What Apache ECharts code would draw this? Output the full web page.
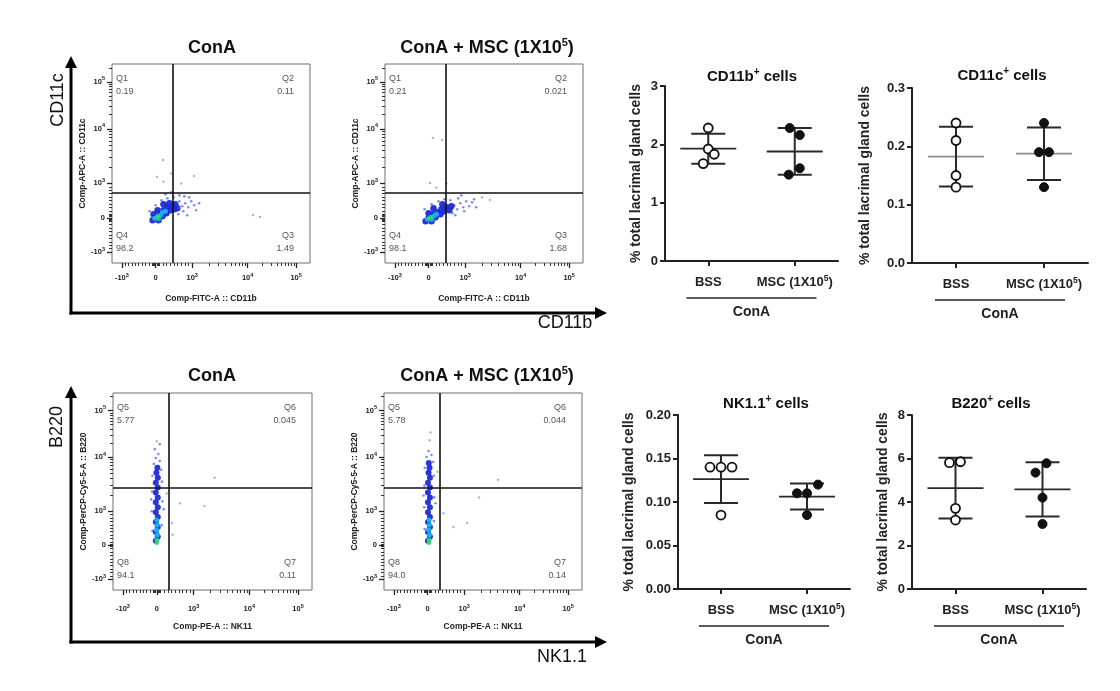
<!DOCTYPE html>
<html><head><meta charset="utf-8">
<script src="https://cdn.jsdelivr.net/npm/echarts@6/dist/echarts.min.js"></script>
<style>html,body{margin:0;padding:0;background:#fff}#c{width:1120px;height:691px}</style>
</head><body><div id="c"></div>
<script>
const FONT = '"Liberation Sans", Arial, Helvetica, sans-serif';

// ================= DATA =================
// dot plots (% total lacrimal gland cells)
const groupLabels = ['BSS', 'MSC (1X10^5)'];
const cd11bBss = [2.28, 1.92, 1.83, 1.67];
const cd11bMsc = [2.28, 2.16, 1.59, 1.48];
const cd11cBss = [0.24, 0.21, 0.15, 0.13];
const cd11cMsc = [0.24, 0.19, 0.19, 0.13];
const nkBss = [0.14, 0.14, 0.14, 0.085];
const nkMsc = [0.12, 0.11, 0.11, 0.085];
const b220Bss = [5.81, 5.85, 3.71, 3.17];
const b220Msc = [5.78, 5.35, 4.20, 2.99];
// horizontal spread (px) of overlapping dots
const cd11bBssJit = [0, 0, 6, -5];
const cd11bMscJit = [-5, 5, 5, -6];
const cd11cBssJit = [0, 0, 0, 0];
const cd11cMscJit = [0, -5, 5, 0];
const nkBssJit = [-11, 0, 11, 0];
const nkMscJit = [11, -10, 0, 0];
const b220BssJit = [-6, 5, 0, 0];
const b220MscJit = [4, -7, 0, 0];

// flow cytometry (biexponential display units 0..100)
const flowTickText = ['-10^3', '0', '10^3', '10^4', '10^5'];
const flowXTickPos = [5, 22, 40.5, 68.5, 93];
const flowYTickPos = [5.5, 22.7, 40, 67.4, 91];
const gateTopConA = [30.8, 35.2];
const gateTopMsc = [30.8, 35.2];
const gateBotConA = [28.2, 51.8];
const gateBotMsc = [28.3, 51.8];
const quadTopNames = ['Q1', 'Q2', 'Q3', 'Q4'];
const quadTopConA = ['0.19', '0.11', '1.49', '98.2'];
const quadTopMsc = ['0.21', '0.021', '1.68', '98.1'];
const quadBotNames = ['Q5', 'Q6', 'Q7', 'Q8'];
const quadBotConA = ['5.77', '0.045', '0.11', '94.1'];
const quadBotMsc = ['5.78', '0.044', '0.14', '94.0'];

// density clouds (events) – CD11b/CD11c ConA
const tlBlue = [[20.5,21.5],[22,23],[23.5,21.5],[24,25],[25.5,23.5],[26,26.5],[27.5,25],[28,28],[29.5,26.5],[30.5,28.5],[31.5,27],[26,29.5],[23,26.5],[21,24.5],[29,30],[32,29.5],[33,27.5]];
const tlSpray = [[34,31],[35.5,28.5],[37,30],[36,26],[38.5,28],[40,31],[41.5,29],[39,33],[34,34],[31,33],[28,32.5],[25,31.5],[22,29],[19,26],[33.5,24.5],[42.5,26.5],[36.5,33.5],[30,35.5],[44,30],[27,34.5],[38,24]];
const tlCyan = [[21.5,22.5],[23,23.5],[24.5,24],[25.5,25.5],[23.5,22.2],[27,26]];
const tlGreen = [[22.5,22.8],[23.5,23.2]];
const tlSparse = [[25.8,51.8],[22.7,43.2],[41.4,43.7],[71.2,24.1],[74.7,23.1],[26,41],[30,45],[35,40]];
// CD11b/CD11c ConA + MSC
const tmBlue = [[20.5,21],[22,22.5],[23.5,21],[24,24.5],[25.5,23],[26.5,25.5],[28,24.5],[28.5,27],[30,26],[31,28],[24.5,27.5],[22,25],[32.5,26.5],[33.5,28.5],[29,29.5]];
const tmSpray = [[35,29],[36.5,27],[38,30],[39.5,28],[41,31],[37,32.5],[42.5,28.5],[44,30.5],[46,28],[34,25],[40,26],[33,31.5],[30,32],[27,31],[23.5,29.5],[20,27],[35.5,24],[45,32],[38.5,34]];
const tmCyan = [[21.5,22],[23,23],[24.5,23.5],[26,24.5],[23.5,21.8]];
const tmGreen = [[22.3,22.3],[23.2,22.8]];
const tmSparse = [[24.2,62.8],[28.8,61.8],[22.7,40.2],[53,31.7],[26,38],[31,40],[49,33]];
// NK1.1/B220 ConA
const blBlue = [[21.5,25],[22.5,27],[21.5,29.5],[22.5,32],[21.5,34.5],[22.5,37],[21.5,39.5],[22.5,42],[21.5,44.5],[22.5,47],[21.5,49.5],[22.5,52],[21.5,54.5],[22.5,57],[21.8,59.5],[22.3,62]];
const blSpray = [[19.8,30],[24.5,33],[19.5,40],[24.8,45],[19.6,50],[24.6,55],[19.8,58],[24.2,61],[20.5,64],[23.5,65.5],[21.5,67],[22.8,69],[21,71.5],[23.5,74],[25.5,41],[19.2,46]];
const blCyan = [[22,25.5],[22.3,28],[21.8,30.5],[22.2,33],[22,35.5]];
const blGreen = [[22,23.8],[22.2,25]];
const blSparse = [[33.7,44],[46,42.6],[51,57],[29.6,34],[22,75.5],[27,49],[30,28]];
// NK1.1/B220 ConA + MSC
const bmBlue = [[22.2,25],[23.2,27],[22.2,29.5],[23.2,32],[22.2,34.5],[23.2,37],[22.2,39.5],[23.2,42],[22.2,44.5],[23.2,47],[22.2,49.5],[23.2,52],[22.2,54.5],[23.2,57],[22.5,59.5],[23,62],[22.6,64.5]];
const bmSpray = [[20.5,31],[25.2,35],[20.3,42],[25.4,47],[20.4,53],[25.2,58],[20.6,62],[24.8,65],[21.5,67.5],[24,68.5],[22.5,70.5],[26,44],[20,48]];
const bmCyan = [[22.7,25.5],[23,28],[22.5,30.5],[22.9,33],[22.7,35.5]];
const bmGreen = [[22.7,23.8],[22.9,25]];
const bmSparse = [[23,76],[57.6,56],[48,47],[42,34],[35,32],[30,39],[23.5,80],[27,60]];

// ================= LAYOUT =================
const L = {
  tl: {x:112, y:64, w:198, h:199, lm:9, ng:31, bs:6.5},
  tm: {x:385, y:64, w:198, h:199, lm:9, ng:31, bs:6.5},
  bl: {x:113, y:393, w:199, h:197, lm:13, ng:32, bs:6},
  bm: {x:384, y:393, w:198, h:197, lm:13, ng:32, bs:6},
  A: {x:665, y:86, w:173, h:175, gap:22},
  B: {x:912, y:88, w:176, h:175, gap:40},
  C: {x:678, y:415, w:172, h:174, gap:42},
  D: {x:912, y:415, w:174, h:174, gap:22}
};

function supRich(t, base, sup) {
  const m = t.match(/^(.*?)\^([0-9+]+)(.*)$/);
  if (!m) return '{' + base + '|' + t + '}';
  return '{' + base + '|' + m[1] + '}{' + sup + '|' + m[2] + '}' + (m[3] ? '{' + base + '|' + m[3] + '}' : '');
}
function minorTicks(m) {
  const out = [];
  for (let k = 1; k < 10; k++) out.push(m[0] + (m[1] - m[0]) * k / 10);
  for (let k = 1; k < 10; k++) out.push(m[1] + (m[2] - m[1]) * k / 10);
  [-1.4, -0.7, 0.7, 1.4].forEach(d => out.push(m[1] + d));
  for (let d = 2; d < 4; d++) for (let k = 2; k < 10; k++) out.push(m[d] + (m[d + 1] - m[d]) * Math.log10(k));
  out.push(m[4] + (m[4] - m[3]) * Math.log10(2));
  return out.filter(v => v > 0.5 && v < 99.5);
}
const tickRich = {
  b: {fontFamily: FONT, fontSize: 7.5, fontWeight: 'bold', color: '#222', lineHeight: 12},
  s: {fontFamily: FONT, fontSize: 5.5, fontWeight: 'bold', color: '#222', lineHeight: 6, verticalAlign: 'top'}
};
function fmtTick(v, pos) {
  let idx = 0, best = 1e9;
  pos.forEach((p, i) => { if (Math.abs(p - v) < best) { best = Math.abs(p - v); idx = i; } });
  return supRich(flowTickText[idx], 'b', 's');
}

const grids = [], xAxes = [], yAxes = [], series = [], gfx = [];

function addFlow(r, layers, gate, qNames, qVals, xName, yName) {
  const gi = grids.length;
  grids.push({left: r.x, top: r.y, width: r.w, height: r.h, show: true, borderColor: '#6e6e6e', borderWidth: 1, backgroundColor: 'transparent'});
  const xi = xAxes.length, yi = yAxes.length;
  const base = {gridIndex: gi, type: 'value', min: 0, max: 100, splitLine: {show: false}, axisLine: {show: false, onZero: false}};
  xAxes.push(Object.assign({}, base, {
    position: 'bottom',
    axisTick: {show: true, customValues: flowXTickPos, length: 5, lineStyle: {color: '#222', width: 1.3}},
    axisLabel: {show: true, customValues: flowXTickPos, margin: r.lm, formatter: v => fmtTick(v, flowXTickPos), rich: tickRich},
    name: xName, nameLocation: 'middle', nameGap: r.ng,
    nameTextStyle: {fontFamily: FONT, fontSize: 8.5, fontWeight: 'bold', color: '#222'}
  }));
  xAxes.push(Object.assign({}, base, {
    position: 'bottom', axisLabel: {show: false},
    axisTick: {show: true, customValues: minorTicks(flowXTickPos), length: 3, lineStyle: {color: '#333', width: 1}}
  }));
  yAxes.push(Object.assign({}, base, {
    position: 'left',
    axisTick: {show: true, customValues: flowYTickPos, length: 5, lineStyle: {color: '#222', width: 1.3}},
    axisLabel: {show: true, customValues: flowYTickPos, margin: 7, formatter: v => fmtTick(v, flowYTickPos), rich: tickRich},
    name: yName, nameLocation: 'middle', nameGap: 25,
    nameTextStyle: {fontFamily: FONT, fontSize: 8.5, fontWeight: 'bold', color: '#222'}
  }));
  yAxes.push(Object.assign({}, base, {
    position: 'left', axisLabel: {show: false},
    axisTick: {show: true, customValues: minorTicks(flowYTickPos), length: 3, lineStyle: {color: '#333', width: 1}}
  }));
  const styles = [
    {d: layers[4], size: 2.5, color: '#9da3cf', op: 0.8},
    {d: layers[1], size: 2.6, color: '#4a58e8', op: 0.7},
    {d: layers[0], size: r.bs, color: '#1f2bd6', op: 0.95},
    {d: layers[2], size: 5, color: '#16b4ec', op: 0.95},
    {d: layers[3], size: 4, color: '#3bd35a', op: 1}
  ];
  styles.forEach((s, k) => {
    const ser = {type: 'scatter', xAxisIndex: xi, yAxisIndex: yi, data: s.d, symbol: 'circle', symbolSize: s.size,
      itemStyle: {color: s.color, opacity: s.op}, silent: true, z: 2 + k, animation: false};
    if (k === 0) ser.markLine = {silent: true, symbol: 'none', animation: false, label: {show: false},
      lineStyle: {color: '#111', width: 1.6, type: 'solid'}, data: [{xAxis: gate[0]}, {yAxis: gate[1]}]};
    series.push(ser);
  });
  const qs = {fill: '#555', color: '#555', fontFamily: FONT, fontSize: 9, lineHeight: 13};
  const txt = (x, y, t, al, va) => gfx.push({type: 'text', x: x, y: y, silent: true,
    style: Object.assign({text: t, align: al, textAlign: al, verticalAlign: va, textVerticalAlign: va}, qs)});
  txt(r.x + 4, r.y + 8, qNames[0] + '\n' + qVals[0], 'left', 'top');
  txt(r.x + r.w - 16, r.y + 8, qNames[1] + '\n' + qVals[1], 'right', 'top');
  txt(r.x + r.w - 16, r.y + r.h - 8, qNames[2] + '\n' + qVals[2], 'right', 'bottom');
  txt(r.x + 4, r.y + r.h - 8, qNames[3] + '\n' + qVals[3], 'left', 'bottom');
}

const mean = a => a.reduce((s, v) => s + v, 0) / a.length;
const sd = a => { const m = mean(a); return Math.sqrt(a.reduce((s, v) => s + (v - m) * (v - m), 0) / (a.length - 1)); };
const catRich = {
  c: {fontFamily: FONT, fontSize: 13, fontWeight: 'bold', color: '#222', lineHeight: 17},
  cs: {fontFamily: FONT, fontSize: 8.5, fontWeight: 'bold', color: '#222', lineHeight: 9, verticalAlign: 'top'}
};

function addDot(r, bss, msc, jb, jm, yMax, yInt, dec, meanColor) {
  const gi = grids.length;
  grids.push({left: r.x, top: r.y, width: r.w, height: r.h});
  const xi = xAxes.length, yi = yAxes.length;
  xAxes.push({gridIndex: gi, type: 'category', data: groupLabels,
    axisLine: {show: true, lineStyle: {color: '#222', width: 2}},
    axisTick: {show: true, alignWithLabel: true, length: 5, lineStyle: {color: '#222', width: 2}},
    axisLabel: {interval: 0, margin: 13, formatter: v => supRich(v, 'c', 'cs'), rich: catRich},
    splitLine: {show: false}});
  yAxes.push({gridIndex: gi, type: 'value', min: 0, max: yMax, interval: yInt,
    axisLine: {show: true, lineStyle: {color: '#222', width: 2}},
    axisTick: {show: true, length: 5, lineStyle: {color: '#222', width: 2}},
    splitLine: {show: false},
    axisLabel: {formatter: v => v.toFixed(dec), fontFamily: FONT, fontSize: 13, fontWeight: 'bold', color: '#222', margin: 7},
    name: '% total lacrimal gland cells', nameLocation: 'middle', nameGap: r.gap,
    nameTextStyle: {fontFamily: FONT, fontSize: 14, fontWeight: 'bold', color: '#222'}});
  series.push({type: 'custom', xAxisIndex: xi, yAxisIndex: yi, silent: true, z: 3, animation: false,
    data: [[0, mean(bss), sd(bss)], [1, mean(msc), sd(msc)]],
    encode: {x: 0, y: 1},
    renderItem: (params, api) => {
      const c = api.value(0), m = api.value(1), s = api.value(2);
      const pm = api.coord([c, m]), ph = api.coord([c, m + s]), pl = api.coord([c, m - s]);
      const bar = {stroke: '#2a2a2a', lineWidth: 2};
      return {type: 'group', children: [
        {type: 'line', shape: {x1: pm[0] - 28, y1: pm[1], x2: pm[0] + 28, y2: pm[1]}, style: {stroke: meanColor, lineWidth: 1.8}},
        {type: 'line', shape: {x1: ph[0], y1: ph[1], x2: pl[0], y2: pl[1]}, style: bar},
        {type: 'line', shape: {x1: ph[0] - 17, y1: ph[1], x2: ph[0] + 17, y2: ph[1]}, style: bar},
        {type: 'line', shape: {x1: pl[0] - 17, y1: pl[1], x2: pl[0] + 17, y2: pl[1]}, style: bar}
      ]};
    }});
  series.push({type: 'scatter', xAxisIndex: xi, yAxisIndex: yi, silent: true, z: 5, animation: false,
    symbol: 'circle', symbolSize: 9,
    itemStyle: {color: '#fff', borderColor: '#111', borderWidth: 1.8, opacity: 1},
    data: bss.map((v, i) => ({value: [0, v], symbolOffset: [jb[i], 0]}))});
  series.push({type: 'scatter', xAxisIndex: xi, yAxisIndex: yi, silent: true, z: 5, animation: false,
    symbol: 'circle', symbolSize: 9,
    itemStyle: {color: '#111', borderColor: '#111', borderWidth: 1, opacity: 1},
    data: msc.map((v, i) => ({value: [1, v], symbolOffset: [jm[i], 0]}))});
  // group bracket "ConA"
  const cx = r.x + r.w / 2;
  gfx.push({type: 'line', silent: true, shape: {x1: cx - 65, y1: r.y + r.h + 37, x2: cx + 65, y2: r.y + r.h + 37},
    style: {stroke: '#222', lineWidth: 1.6}});
  gfx.push({type: 'text', silent: true, x: cx, y: r.y + r.h + 51,
    style: {text: 'ConA', fill: '#222', fontFamily: FONT, fontSize: 14, fontWeight: 'bold',
      align: 'center', textAlign: 'center', verticalAlign: 'middle', textVerticalAlign: 'middle'}});
}

addFlow(L.tl, [tlBlue, tlSpray, tlCyan, tlGreen, tlSparse], gateTopConA, quadTopNames, quadTopConA, 'Comp-FITC-A :: CD11b', 'Comp-APC-A :: CD11c');
addFlow(L.tm, [tmBlue, tmSpray, tmCyan, tmGreen, tmSparse], gateTopMsc, quadTopNames, quadTopMsc, 'Comp-FITC-A :: CD11b', 'Comp-APC-A :: CD11c');
addFlow(L.bl, [blBlue, blSpray, blCyan, blGreen, blSparse], gateBotConA, quadBotNames, quadBotConA, 'Comp-PE-A :: NK11', 'Comp-PerCP-Cy5-5-A :: B220');
addFlow(L.bm, [bmBlue, bmSpray, bmCyan, bmGreen, bmSparse], gateBotMsc, quadBotNames, quadBotMsc, 'Comp-PE-A :: NK11', 'Comp-PerCP-Cy5-5-A :: B220');

addDot(L.A, cd11bBss, cd11bMsc, cd11bBssJit, cd11bMscJit, 3, 1, 0, '#2a2a2a');
addDot(L.B, cd11cBss, cd11cMsc, cd11cBssJit, cd11cMscJit, 0.3, 0.1, 1, '#8c8c8c');
addDot(L.C, nkBss, nkMsc, nkBssJit, nkMscJit, 0.2, 0.05, 2, '#2a2a2a');
addDot(L.D, b220Bss, b220Msc, b220BssJit, b220MscJit, 8, 2, 0, '#2a2a2a');

// titles
const titleRich = {
  n: {fill: '#111', color: '#111', fontFamily: FONT, fontSize: 18, fontWeight: 'bold', lineHeight: 22},
  s: {fill: '#111', color: '#111', fontFamily: FONT, fontSize: 11, fontWeight: 'bold', lineHeight: 11, verticalAlign: 'top'}
};
const dotRich = {
  n: {fill: '#111', color: '#111', fontFamily: FONT, fontSize: 15, fontWeight: 'bold', lineHeight: 19},
  s: {fill: '#111', color: '#111', fontFamily: FONT, fontSize: 10, fontWeight: 'bold', lineHeight: 10, verticalAlign: 'top'}
};
function title(x, y, t, rich) {
  gfx.push({type: 'text', silent: true, x: x, y: y,
    style: {text: supRich(t, 'n', 's'), rich: rich, align: 'center', textAlign: 'center', verticalAlign: 'middle', textVerticalAlign: 'middle'}});
}
title(212, 48, 'ConA', titleRich);
title(487, 48, 'ConA + MSC (1X10^5)', titleRich);
title(212, 376, 'ConA', titleRich);
title(487, 376, 'ConA + MSC (1X10^5)', titleRich);
title(752, 77, 'CD11b^+ cells', dotRich);
title(1002, 76, 'CD11c^+ cells', dotRich);
title(766, 404, 'NK1.1^+ cells', dotRich);
title(991, 404, 'B220^+ cells', dotRich);

// marker arrows
function arrows(yBase, yTop, xEnd) {
  gfx.push({type: 'line', silent: true, shape: {x1: 71, y1: yBase + 1.5, x2: 71, y2: yTop + 10}, style: {stroke: '#000', lineWidth: 3}});
  gfx.push({type: 'polygon', silent: true, shape: {points: [[71, yTop], [65, yTop + 12], [77, yTop + 12]]}, style: {fill: '#000'}});
  gfx.push({type: 'line', silent: true, shape: {x1: 69.5, y1: yBase, x2: xEnd - 10, y2: yBase}, style: {stroke: '#000', lineWidth: 3}});
  gfx.push({type: 'polygon', silent: true, shape: {points: [[xEnd, yBase], [xEnd - 12, yBase - 6], [xEnd - 12, yBase + 6]]}, style: {fill: '#000'}});
}
arrows(313, 56, 607);
arrows(642, 386, 607);
function bigLabel(x, y, t, rot) {
  gfx.push({type: 'text', silent: true, x: x, y: y, rotation: rot,
    style: {text: t, fill: '#111', fontFamily: FONT, fontSize: 18, align: 'center', textAlign: 'center', verticalAlign: 'middle', textVerticalAlign: 'middle'}});
}
bigLabel(58, 100, 'CD11c', Math.PI / 2);
bigLabel(565, 323, 'CD11b', 0);
bigLabel(57, 427, 'B220', Math.PI / 2);
bigLabel(562, 657, 'NK1.1', 0);

const chart = echarts.init(document.getElementById('c'), null, {renderer: 'canvas'});
chart.setOption({
  animation: false,
  backgroundColor: '#fff',
  grid: grids, xAxis: xAxes, yAxis: yAxes, series: series,
  graphic: {elements: gfx}
});
</script></body></html>
